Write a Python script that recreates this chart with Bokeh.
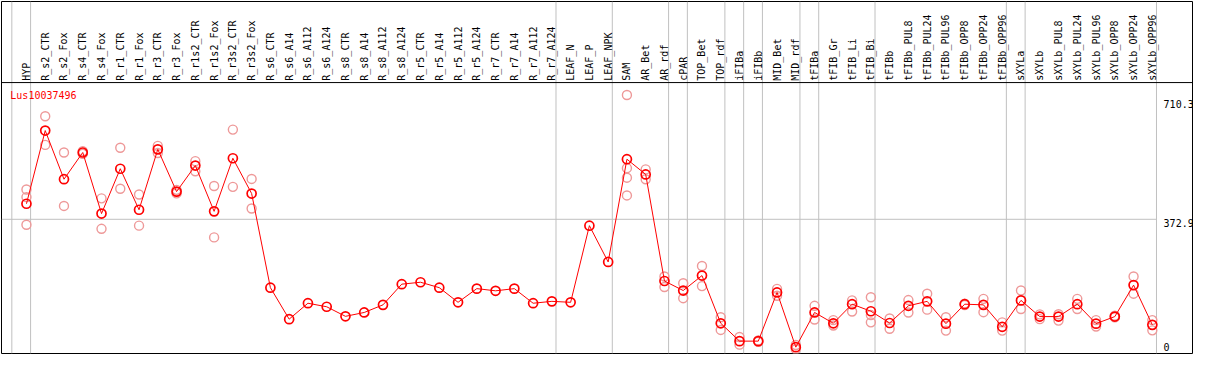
import math
from bokeh.plotting import figure
from bokeh.models import Span, Range1d
from bokeh.embed import file_html
from bokeh.resources import INLINE
from bokeh.core.properties import value

gene = "Lus10037496"

categories = [
    "HYP", "R_s2_CTR", "R_s2_Fox", "R_s4_CTR", "R_s4_Fox", "R_r1_CTR", "R_r1_Fox",
    "R_r3_CTR", "R_r3_Fox", "R_r1s2_CTR", "R_r1s2_Fox", "R_r3s2_CTR", "R_r3s2_Fox",
    "R_s6_CTR", "R_s6_A14", "R_s6_A112", "R_s6_A124", "R_s8_CTR", "R_s8_A14",
    "R_s8_A112", "R_s8_A124", "R_r5_CTR", "R_r5_A14", "R_r5_A112", "R_r5_A124",
    "R_r7_CTR", "R_r7_A14", "R_r7_A112", "R_r7_A124", "LEAF_N", "LEAF_P", "LEAF_NPK",
    "SAM", "AR_Bet", "AR_rdf", "cPAR", "TOP_Bet", "TOP_rdf", "iFIBa", "iFIBb",
    "MID_Bet", "MID_rdf", "tFIBa", "tFIB_Gr", "tFIB_Li", "tFIB_Bi", "tFIBb",
    "tFIBb_PUL8", "tFIBb_PUL24", "tFIBb_PUL96", "tFIBb_OPP8", "tFIBb_OPP24",
    "tFIBb_OPP96", "sXYLa", "sXYLb", "sXYLb_PUL8", "sXYLb_PUL24", "sXYLb_PUL96",
    "sXYLb_OPP8", "sXYLb_OPP24", "sXYLb_OPP96",
]

means = [
    416.8, 623.3, 486.0, 561.4, 389.0, 515.6, 399.8, 570.3, 451.0, 524.5, 395.3,
    545.2, 445.6, 179.9, 91.0, 136.0, 126.0, 99.0, 109.9, 131.4, 189.8, 195.2,
    179.9, 138.6, 177.2, 171.0, 177.2, 136.0, 141.3, 138.6, 354.9, 252.5, 542.5,
    499.5, 198.7, 171.8, 214.0, 79.4, 29.0, 29.0, 166.4, 12.0, 109.9, 79.4, 133.3,
    113.4, 80.2, 128.7, 141.3, 78.4, 133.3, 131.4, 69.5, 144.0, 98.3, 98.3, 133.3,
    78.4, 98.3, 187.1, 74.9,
]

replicates = [
    [457.0, 435.6, 357.6], [663.7, 582.9], [561.4, 410.6], [565.0, 558.0],
    [432.0, 346.0], [574.9, 459.0], [442.9, 354.9], [580.0, 560.0], [456.0, 446.0],
    [537.0, 508.3], [467.0, 321.8], [626.0, 464.5], [486.8, 403.3],
    [], [], [], [], [], [], [], [], [], [], [], [], [], [], [], [], [], [], [],
    [723.7, 517.3, 490.3, 440.2], [513.7, 486.0], [211.4, 181.7], [192.5, 150.2],
    [241.0, 184.4], [96.4, 60.6], [40.7, 19.1], [31.0, 27.0], [176.4, 157.0],
    [18.0, 6.0], [128.7, 90.2], [88.3, 73.0], [144.0, 112.5], [152.9, 102.6, 82.0],
    [92.9, 64.0], [144.9, 109.9], [162.9, 117.9], [96.4, 58.7], [135.0, 131.0],
    [148.4, 110.7], [82.0, 58.7], [171.8, 119.8], [104.5, 91.0], [105.0, 87.0],
    [148.4, 119.8], [88.3, 70.3], [101.0, 96.0], [211.4, 162.9], [88.3, 59.5],
]

separators_after = [-1, 0, 28, 31, 34, 35, 37, 38, 39, 41, 42, 45, 52, 53, 60]

y_ticks = [0, 372.9, 710.3]
y_tick_labels = ["0", "372.9", "710.3"]

MONO = value("DejaVu Sans Mono")

X_MIN, X_MAX = -1.33, 62.14
Y_MIN, Y_MAX = -5.9, 987.6
PLOT_TOP = 758.8      # separator between label band and data area
LABEL_BASE = 764.0    # where rotated category labels start

p = figure(width=1193, height=354, output_backend="svg", toolbar_location=None,
           tools="", x_range=Range1d(X_MIN, X_MAX), y_range=Range1d(Y_MIN, Y_MAX),
           min_border=1)
p.axis.visible = False
p.grid.visible = False
p.outline_line_color = "black"
p.outline_line_width = 1
p.background_fill_color = "white"
p.border_fill_color = "white"

xs = list(range(len(categories)))

# vertical group separators
sep_offset = 0.22
for k in separators_after:
    p.add_layout(Span(location=k + sep_offset, dimension="height",
                      line_color="#c0c0c0", line_width=1, level="underlay"))

# horizontal mid gridline
p.segment(x0=[X_MIN], y0=[y_ticks[1]], x1=[separators_after[-1] + sep_offset],
          y1=[y_ticks[1]], line_color="#c0c0c0", line_width=1, level="underlay")

# separator between labels and data
p.add_layout(Span(location=PLOT_TOP, dimension="width", line_color="black",
                  line_width=1))

# category labels
p.text(x=xs, y=[LABEL_BASE] * len(xs), text=categories, angle=math.pi / 2,
       text_align="left", text_baseline="middle", text_font=MONO,
       text_font_size="10px", text_color="black")

# replicates
rx, ry = [], []
for i, reps in enumerate(replicates):
    for v in reps:
        rx.append(i)
        ry.append(v)
p.scatter(x=rx, y=ry, marker="circle", size=9, fill_color=None,
          line_color="#ee9999", line_width=1.4)

# mean line and points
p.line(x=xs, y=means, line_color="#ff0000", line_width=1)
p.scatter(x=xs, y=means, marker="circle", size=9, fill_color=None,
          line_color="#ff0000", line_width=1.7)

# y tick labels (inside plot at right)
tick_x = 60.6
p.text(x=[tick_x, tick_x], y=y_ticks[1:], text=y_tick_labels[1:],
       text_align="left", text_baseline="top", text_font=MONO,
       text_font_size="10px", text_color="black")
p.text(x=[tick_x], y=[y_ticks[0]], text=[y_tick_labels[0]],
       text_align="left", text_baseline="bottom", text_font=MONO,
       text_font_size="10px", text_color="black")

# gene title
p.text(x=[-0.86], y=[737.0], text=[gene], text_align="left", text_baseline="top",
       text_font=MONO, text_font_size="10px", text_color="#ff0000")

open("out.html", "w").write(file_html(p, INLINE))
